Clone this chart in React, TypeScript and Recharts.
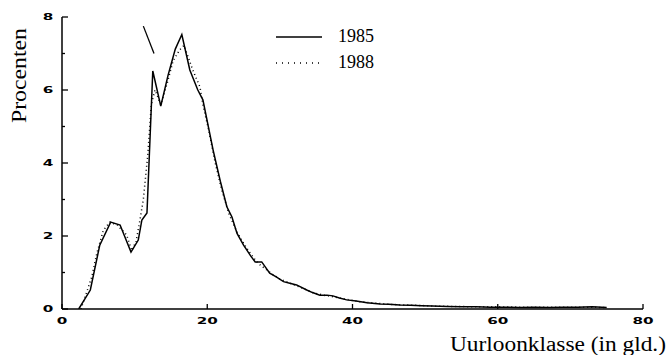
import { LineChart, Line, XAxis, YAxis, Legend, Label } from 'recharts';

// hourly wage class (guilders) and share of workers (%)
const wage1985 = [
  2.3, 3.9, 5.2, 6.7, 8.0, 9.5, 10.5, 11.0, 11.7, 12.5, 13.6, 14.6, 15.6, 16.5, 17.6, 18.7, 19.4,
  20.8, 21.8, 22.7, 23.4, 24.1, 25.0, 26.0, 26.6, 27.5, 28.6, 29.5, 30.5, 31.5, 32.3, 33.7, 34.5,
  35.5, 36.5, 37.3, 38.2, 39.2, 40.5, 42, 43.8, 45, 46.5, 48, 49.5, 51, 53, 55, 57, 59, 61, 63, 65,
  67, 69, 71, 73, 75,
];
const pct1985 = [
  0, 0.52, 1.75, 2.38, 2.3, 1.56, 1.89, 2.44, 2.63, 6.52, 5.56, 6.4, 7.12, 7.52, 6.55, 6.0, 5.73,
  4.36, 3.5, 2.8, 2.52, 2.07, 1.75, 1.45, 1.29, 1.29, 0.98, 0.88, 0.75, 0.7, 0.66, 0.52, 0.45,
  0.38, 0.38, 0.36, 0.3, 0.25, 0.22, 0.17, 0.14, 0.13, 0.11, 0.1, 0.09, 0.08, 0.07, 0.06, 0.06,
  0.05, 0.05, 0.04, 0.05, 0.04, 0.05, 0.05, 0.06, 0.04,
];

const wage1988 = [
  2.6, 3.3, 4.1, 4.8, 5.7, 6.6, 7.6, 8.9, 9.6, 10.2, 10.7, 11.2, 11.8, 12.3, 12.8, 13.6, 14.5,
  15.3, 16.2, 16.8, 18.0, 19.0, 19.4, 20.2, 21.1, 22.0, 23.0, 24.0, 25.0, 26.0, 27.0, 28.0, 29.0,
  30.0, 31.5, 33, 34.5, 36, 37.5, 39, 41, 43, 45, 47, 49, 51, 54, 57, 60, 63, 66, 69, 72, 75,
];
const pct1988 = [
  0, 0.4, 0.88, 1.53, 2.16, 2.38, 2.3, 2.03, 1.6, 1.85, 2.4, 3.0, 4.2, 5.6, 6.0, 5.6, 6.2, 6.8,
  7.1, 7.22, 6.55, 6.08, 5.6, 4.9, 4.0, 3.26, 2.6, 2.15, 1.8, 1.5, 1.25, 1.1, 0.95, 0.82, 0.7,
  0.58, 0.45, 0.38, 0.33, 0.27, 0.2, 0.16, 0.13, 0.11, 0.1, 0.08, 0.07, 0.06, 0.06, 0.05, 0.05,
  0.05, 0.05, 0.04,
];

// stray stroke above the first peak in the scan
const strayX = [11.2, 12.67];
const strayY = [7.75, 7.0];

const xTicks = [0, 20, 40, 60, 80];
const yTicks = [0, 1, 2, 3, 4, 5, 6, 7, 8];

const data1985 = wage1985.map((x, i) => ({ x, y: pct1985[i] }));
const data1988 = wage1988.map((x, i) => ({ x, y: pct1988[i] }));
const dataStray = strayX.map((x, i) => ({ x, y: strayY[i] }));

const TICK_FONT = 'DejaVu Sans, sans-serif';
const SERIF = 'Liberation Serif, Times New Roman, serif';

function YTick({ x, y, payload }: any) {
  const major = payload.value % 2 === 0;
  return (
    <g>
      <line x1={x} y1={y} x2={x + (major ? 6 : 3)} y2={y} stroke="#000" strokeWidth={1.3} />
      {major && (
        <text
          transform={`translate(${x - 14},${y}) scale(1.6,1)`}
          textAnchor="middle"
          dominantBaseline="central"
          fontFamily={TICK_FONT}
          fontWeight="bold"
          fontSize={9.5}
          fill="#000"
        >
          {payload.value}
        </text>
      )}
    </g>
  );
}

function XTick({ x, y, payload }: any) {
  return (
    <g>
      <line x1={x} y1={y} x2={x} y2={y - 5} stroke="#000" strokeWidth={1.3} />
      <text
        transform={`translate(${x},${y + 12}) scale(1.6,1)`}
        textAnchor="middle"
        dominantBaseline="central"
        fontFamily={TICK_FONT}
        fontWeight="bold"
        fontSize={9.5}
        fill="#000"
      >
        {payload.value}
      </text>
    </g>
  );
}

function LegendBox() {
  return (
    <svg width={130} height={50}>
      <line x1={6} y1={12} x2={52} y2={12} stroke="#000" strokeWidth={1.5} />
      <text x={68} y={17} fontFamily={SERIF} fontSize={18} fill="#000">1985</text>
      <line x1={6} y1={38} x2={52} y2={38} stroke="#000" strokeWidth={1.5} strokeDasharray="1 5" />
      <text x={68} y={43} fontFamily={SERIF} fontSize={18} fill="#000">1988</text>
    </svg>
  );
}

export default function App() {
  return (
    <div style={{ position: 'absolute', left: 0, top: 0, width: 669, height: 355, background: '#fff' }}>
      <LineChart width={669} height={355} margin={{ top: 17, right: 26, bottom: 0, left: 0 }}>
        <XAxis
          type="number"
          dataKey="x"
          domain={[0, 80]}
          ticks={xTicks}
          height={46}
          tickSize={0}
          tickMargin={0}
          tick={<XTick />}
          axisLine={{ stroke: '#000', strokeWidth: 1.5 }}
          allowDataOverflow
        >
          <Label
            content={() => (
              <text
                x={450}
                y={351}
                textLength={216}
                lengthAdjust="spacingAndGlyphs"
                fontFamily={SERIF}
                fontSize={20}
                fill="#000"
              >
                Uurloonklasse (in gld.)
              </text>
            )}
          />
        </XAxis>
        <YAxis
          type="number"
          domain={[0, 8]}
          ticks={yTicks}
          width={62}
          tickSize={0}
          tickMargin={0}
          tick={<YTick />}
          axisLine={{ stroke: '#000', strokeWidth: 1.5 }}
          allowDataOverflow
        >
          <Label
            content={() => (
              <text
                transform="translate(26,123) rotate(-90)"
                textLength={95}
                lengthAdjust="spacingAndGlyphs"
                fontFamily={SERIF}
                fontSize={20}
                fill="#000"
              >
                Procenten
              </text>
            )}
          />
        </YAxis>
        <Legend
          layout="horizontal"
          verticalAlign="middle"
          align="center"
          content={() => <LegendBox />}
          wrapperStyle={{ position: 'absolute', left: 270, top: 25, width: 130, height: 50 }}
        />
        <Line
          data={data1985}
          dataKey="y"
          type="linear"
          stroke="#000"
          strokeWidth={1.5}
          dot={false}
          isAnimationActive={false}
        />
        <Line
          data={data1988}
          dataKey="y"
          type="linear"
          stroke="#000"
          strokeWidth={1.5}
          strokeDasharray="1 3"
          dot={false}
          isAnimationActive={false}
        />
        <Line
          data={dataStray}
          dataKey="y"
          type="linear"
          stroke="#000"
          strokeWidth={1.3}
          dot={false}
          legendType="none"
          isAnimationActive={false}
        />
      </LineChart>
    </div>
  );
}
